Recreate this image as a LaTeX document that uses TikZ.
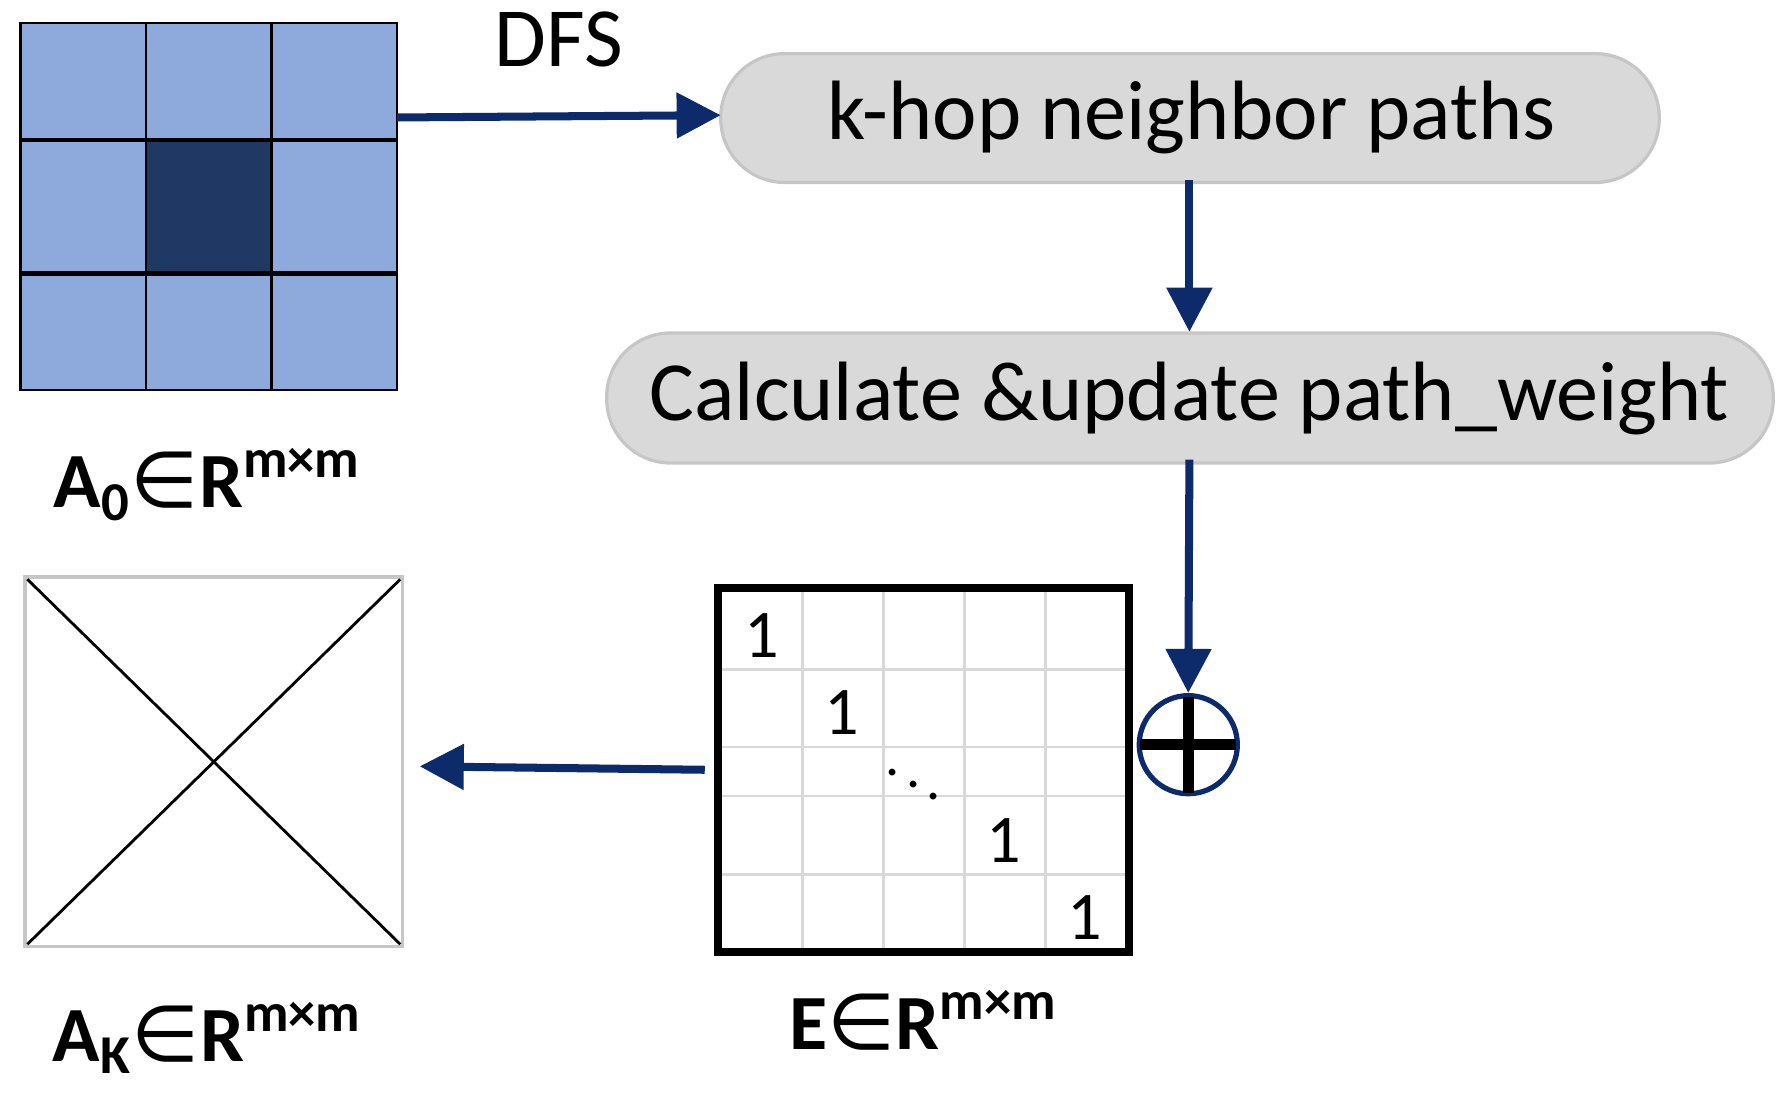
\documentclass[tikz,border=0pt]{standalone}
\usepackage{fontspec}
\setmainfont{Carlito}
\newfontfamily\symf{DejaVu Sans}
\usetikzlibrary{arrows.meta}
\definecolor{navy}{HTML}{0D2A6B}
\definecolor{lblue}{HTML}{8EA9DB}
\definecolor{dblue}{HTML}{203864}
\definecolor{pill}{HTML}{D9D9D9}
\begin{document}
\begin{tikzpicture}[x=0.01cm,y=-0.01cm,
 arr/.style={draw=navy,line width=2pt,-{Triangle[length=11pt,width=11pt]}},
 pillst/.style={draw=gray!45,line width=0.8pt,fill=pill,rounded corners=0.56cm},
 lab/.style={font=\fontsize{19.5}{24}\selectfont\bfseries},
 ptext/.style={font=\fontsize{21}{26}\selectfont}]
\useasboundingbox (0,0) rectangle (1560,960);
% A0 grid
\fill[lblue] (18,20) rectangle (348,342);
\fill[dblue] (128,123) rectangle (238,240);
\draw[line width=0.6pt] (18,20) rectangle (348,342);
\draw[line width=0.6pt] (128,20)--(128,342) (238,20)--(238,342);
\draw[line width=1.1pt] (18,123)--(348,123) (18,240)--(348,240);
\node[lab] (a0) at (182,425) {A\textsubscript{0}{\symf\mdseries ∈}R\textsuperscript{m×m}};
% pills
\filldraw[pillst] (632,47) rectangle (1455,160);
\node[ptext] (p1) at (1045,103) {k-hop neighbor paths};
\filldraw[pillst] (532,292) rectangle (1555,406);
\node[ptext] (p2) at (1043,349) {Calculate \&update path\_weight};
\coordinate (g1) at (348,103);
\coordinate (g2) at (632,101);
\draw[arr] (g1) -- node[above=8pt,font=\fontsize{21}{26}\selectfont] (dfs) {DFS} (g2);
\coordinate (p1b) at (1043,158);
\coordinate (p2t) at (1043,291);
\draw[arr] (p1b) -- (p2t);
% circle plus
\node[circle,draw=navy,line width=1.3pt,minimum size=0.86cm,inner sep=0] (op) at (1042,653) {};
\draw[line width=2.8pt] (1000,653)--(1084,653) (1042,611)--(1042,695);
\coordinate (p2b) at (1043,403);
\draw[arr] (p2b) -- (op.north);
% E matrix
\draw[gray!30,line width=0.7pt] (704,516)--(704,835) (775,516)--(775,835) (846,516)--(846,835) (917,516)--(917,835)
 (630,587)--(990,587) (630,655)--(990,655) (630,698)--(990,698) (630,767)--(990,767);
\draw[line width=2pt] (630,516) rectangle (990,835);
\foreach \p in {(668,557),(738,625),(880,737),(951,805)}
  \node[font=\fontsize{17}{20}\selectfont] at \p {1};
\node[font=\fontsize{14}{16}\selectfont] at (801,677) {$\ddots$};
\node[lab] (el) at (810,895) {E{\symf\mdseries ∈}R\textsuperscript{m×m}};
% AK box
\draw[gray!45,line width=0.8pt] (22,506) rectangle (353,830);
\draw[line width=0.7pt] (24,508)--(351,828) (351,508)--(24,828);
\node[lab] (ak) at (182,910) {A\textsubscript{K}{\symf\mdseries ∈}R\textsuperscript{m×m}};
\coordinate (e1) at (618,675);
\coordinate (e2) at (368,672);
\draw[arr] (e1) -- (e2);
\end{tikzpicture}
\end{document}
